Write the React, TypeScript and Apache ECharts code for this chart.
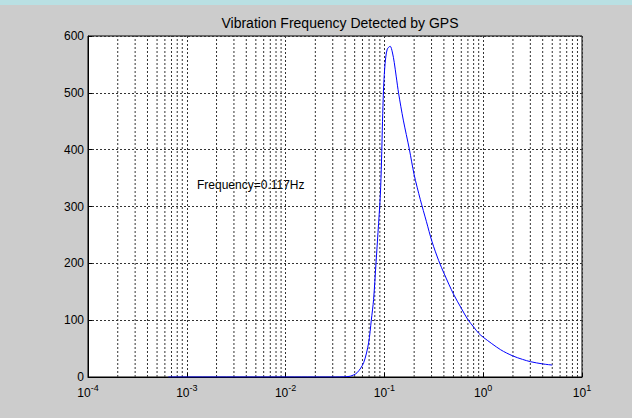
import React, { useEffect, useRef } from "react";
import * as echarts from "echarts";

const titleText = "Vibration Frequency Detected by GPS";
const annotation = "Frequency=0.117Hz";

const freqHz = [
  0.00065, 0.0318, 0.0386, 0.0451, 0.0528, 0.0616, 0.0692, 0.0737, 0.0777,
  0.0822, 0.0861, 0.0909, 0.0935, 0.0957, 0.0979, 0.1005, 0.1033, 0.107,
  0.1144, 0.1202, 0.1259, 0.1319, 0.1393, 0.1554, 0.1788, 0.2, 0.2311, 0.2657,
  0.3035, 0.354, 0.4045, 0.5, 0.6, 0.7, 0.8, 0.9, 1.0, 1.5, 2.0, 2.5, 3.0, 4.0,
  5.0,
];
const amplitude = [
  0, 0, 0.3, 1.4, 7.4, 25, 60, 100, 136,
  200, 254, 319, 380, 450, 505, 541, 563, 577,
  582, 572, 553, 528, 499, 452, 401, 356, 312, 274,
  238, 205, 181, 146, 121, 101, 88, 77, 70, 48, 37, 31, 27, 23,
  21,
];

const xMin = 0.0001;
const xMax = 10;
const yMin = 0;
const yMax = 600;
const yStep = 100;
const minorMultipliers = [2, 3, 4, 5, 6, 7, 8, 9];
const decadeExponents = [-4, -3, -2, -1, 0];

export default function App() {
  const ref = useRef<HTMLDivElement>(null);

  useEffect(() => {
    if (!ref.current) return;
    const chart = echarts.init(ref.current, null, { renderer: "svg" });

    const gridLine = { color: "#333", width: 1, type: [2, 2] as any };
    const font = "'Liberation Sans', Arial, sans-serif";

    const minorSeries: any[] = [];
    decadeExponents.forEach((e) => {
      minorMultipliers.forEach((m) => {
        const x = parseFloat((m * Math.pow(10, e)).toPrecision(6));
        minorSeries.push({
          type: "line",
          data: [
            [x, yMin],
            [x, yMax],
          ],
          showSymbol: false,
          silent: true,
          z: 1,
          lineStyle: gridLine,
        });
      });
    });

    chart.setOption({
      animation: false,
      backgroundColor: "#cccccc",
      textStyle: { fontFamily: font },
      title: {
        text: titleText,
        left: 335,
        textAlign: "center",
        top: 11,
        textStyle: { fontSize: 14, fontWeight: "normal", color: "#000", fontFamily: font },
      },
      graphic: [
        { type: "rect", left: 0, top: 0, shape: { width: 632, height: 5 }, style: { fill: "#b9e0e3" } },
        {
          type: "text",
          left: 197,
          top: 179,
          style: { text: annotation, fontSize: 12, fill: "#000", fontFamily: font },
        },
      ],
      grid: {
        left: 88,
        right: 50,
        top: 36,
        bottom: 41,
        show: true,
        backgroundColor: "#ffffff",
        borderColor: "#000",
        borderWidth: 1,
      },
      xAxis: {
        type: "log",
        logBase: 10,
        min: xMin,
        max: xMax,
        axisLine: { show: true, lineStyle: { color: "#000" } },
        axisTick: { show: true, inside: true, length: 4, lineStyle: { color: "#000" } },
        splitLine: { show: true, lineStyle: gridLine },
        axisLabel: {
          margin: 5,
          color: "#000",
          formatter: (v: number) => `{b|10}{s|${Math.round(Math.log10(v))}}`,
          rich: {
            b: { fontSize: 12, color: "#000", fontFamily: font, padding: [5, 0, 0, 0] },
            s: { fontSize: 9, color: "#000", fontFamily: font, padding: [0, 0, 5, 0] },
          },
        },
      },
      yAxis: {
        type: "value",
        min: yMin,
        max: yMax,
        interval: yStep,
        axisLine: { show: true, lineStyle: { color: "#000" } },
        axisTick: { show: true, inside: true, length: 4, lineStyle: { color: "#000" } },
        splitLine: { show: true, lineStyle: gridLine },
        axisLabel: { fontSize: 12, color: "#000", margin: 4, fontFamily: font },
      },
      series: [
        ...minorSeries,
        {
          type: "line",
          data: freqHz.map((f, i) => [f, amplitude[i]]),
          showSymbol: false,
          smooth: 0.3,
          z: 5,
          lineStyle: { color: "#0000ff", width: 1 },
          silent: true,
        },
      ],
    });

    return () => chart.dispose();
  }, []);

  return (
    <div
      ref={ref}
      style={{ position: "fixed", left: 0, top: 0, width: 632, height: 418 }}
    />
  );
}
